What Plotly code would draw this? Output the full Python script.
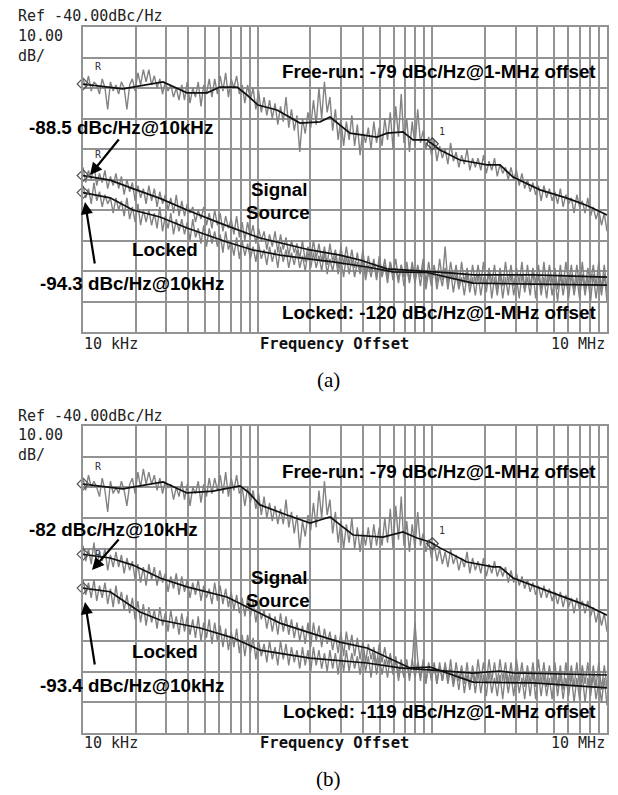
import numpy as np
import plotly.graph_objects as go

# ------------------------------------------------------------------ data
# frequency offsets in kHz, phase noise in dBc/Hz
# ---- panel (a): averaged traces
fr_a_f = [10, 16.9, 28.7, 39.4, 51.3, 60.8, 76.2, 86.9, 100.5, 129, 174.7, 227.6, 259.6, 337.8,
          482.2, 550, 679, 775, 932, 1107, 1440, 2056, 2439, 2896, 4134, 5900, 7680, 10000]
fr_a = [-58.7, -60.3, -58.0, -61.6, -61.6, -59.7, -59.7, -62.3, -65.6, -67.2, -71.5, -71.1, -69.5, -74.8,
        -76.1, -74.8, -74.4, -77.0, -77.0, -80.3, -83.6, -85.2, -85.2, -89.2, -93.4, -96.1, -98.5, -101.6]

ss_a_f = [10, 14.3, 19.3, 27.6, 39.4, 60.8, 103.1, 199.5, 296, 385.5, 550, 932, 1313, 1709, 3770, 10000]
ss_a = [-88.7, -90.2, -93, -96.2, -100, -104.3, -109.2, -113.1, -114.8, -116.4, -119.3, -120, -120.7,
        -121.3, -121.3, -122]

lk_a_f = [10, 14.3, 19.3, 27.6, 39.4, 66.7, 94, 134.3, 199.5, 270, 422.7, 595, 932, 1213, 1709, 3770, 10000]
lk_a = [-94.3, -96, -100, -102.3, -105.9, -110.5, -113.1, -114.8, -116.1, -117, -118.7, -120.3, -120.5,
        -122, -124, -124.3, -124.6]

# ---- panel (b): averaged traces
fr_b_f = [10, 16.9, 28.7, 39.4, 55.5, 79.2, 88.1, 103.1, 147.2, 199.5, 227.6, 259.6, 351.6, 522, 679,
          817, 970, 1107, 1579, 2225, 2439, 2896, 4134, 5900, 7680, 10000]
fr_b = [-58.9, -60.5, -58.2, -61.8, -61.2, -59.5, -61.5, -65.7, -69, -71.6, -70.6, -69.6, -75.5, -76.2,
        -74.5, -76.5, -77.8, -79.7, -84.3, -85.9, -85.9, -89.5, -92.8, -96, -98.5, -101.6]

ss_b_f = [10, 14.3, 19.3, 27.6, 39.4, 66.7, 94, 134.3, 199.5, 296, 422.7, 595, 745, 970, 1313, 1709,
          3770, 10000]
ss_b = [-81.8, -83, -85.3, -89.5, -92.4, -95.7, -99.9, -104.2, -107.4, -110.4, -112.3, -116.2, -118.8,
        -118.5, -121.1, -123.4, -123.7, -125.3]

lk_b_f = [10, 14.3, 21.2, 27.6, 46.8, 72.2, 103.1, 199.5, 422.7, 653, 1009, 1709, 2439, 2896, 10000]
lk_b = [-92.8, -94, -100.6, -103.2, -105.8, -109, -113, -115.6, -117.2, -118.8, -119.5, -120.5, -119.8,
        -120.4, -121.1]

# raw (unsmoothed) measured traces, read on a log frequency grid 10 kHz .. 10 MHz (192 samples)
raw_f = np.logspace(1, 4, 192)

raw_fr_a = [
    -57, -60, -56, -61, -58, -59, -62, -57, -60, -67, -58, -61,
    -59, -62, -58, -60, -67, -59, -57, -61, -55, -59, -54, -58,
    -54, -59, -56, -60, -57, -62, -58, -61, -59, -63, -60, -64,
    -59, -64, -58, -65, -60, -63, -58, -66, -59, -62, -57, -63,
    -57, -62, -56, -61, -55, -63, -57, -60, -56, -62, -59, -65,
    -59, -64, -60, -67, -61, -68, -63, -69, -64, -70, -65, -72,
    -66, -71, -63, -73, -67, -74, -69, -81, -70, -75, -68, -73,
    -64, -72, -60, -70, -58, -68, -63, -74, -67, -77, -70, -79,
    -71, -77, -69, -79, -72, -82, -74, -78, -73, -80, -71, -78,
    -73, -79, -70, -77, -68, -80, -66, -76, -62, -78, -70, -81,
    -71, -79, -67, -78, -74, -80, -76, -82, -77, -84, -79, -83,
    -80, -85, -78, -84, -81, -86, -82, -85, -80, -87, -83, -86,
    -83, -87, -82, -88, -84, -87, -83, -89, -85, -88, -86, -90,
    -86, -90, -87, -92, -88, -93, -90, -94, -91, -95, -92, -97,
    -92, -96, -93, -97, -94, -98, -93, -99, -95, -98, -96, -101,
    -95, -99, -97, -101, -96, -102, -99, -103, -100, -105, -101, -107]

raw_ss_a = [
    -86, -91, -87, -90, -85, -92, -88, -91, -87, -93, -89, -92,
    -88, -93, -89, -95, -90, -94, -91, -97, -92, -96, -93, -98,
    -92, -97, -93, -99, -94, -98, -95, -100, -96, -101, -95, -102,
    -97, -102, -98, -101, -99, -104, -100, -103, -99, -105, -101, -106,
    -100, -105, -101, -107, -102, -106, -103, -108, -102, -109, -104, -110,
    -104, -109, -105, -111, -106, -110, -107, -113, -108, -112, -107, -114,
    -108, -113, -109, -115, -110, -114, -111, -116, -110, -117, -112, -116,
    -110, -116, -111, -117, -112, -118, -111, -117, -113, -119, -112, -118,
    -112, -118, -113, -119, -114, -120, -113, -121, -115, -120, -116, -122,
    -115, -121, -116, -122, -117, -121, -116, -123, -118, -122, -117, -123,
    -117, -123, -118, -122, -116, -124, -117, -123, -118, -124, -116, -123,
    -112, -124, -117, -123, -118, -125, -117, -124, -119, -125, -118, -124,
    -118, -124, -117, -125, -119, -124, -118, -126, -119, -125, -117, -124,
    -118, -125, -119, -124, -117, -126, -118, -125, -119, -124, -118, -126,
    -117, -125, -118, -124, -119, -126, -118, -125, -117, -124, -118, -126,
    -118, -125, -117, -126, -119, -124, -118, -125, -117, -126, -118, -127]

raw_lk_a = [
    -92, -96, -93, -98, -91, -97, -94, -99, -95, -98, -96, -101,
    -96, -100, -97, -102, -96, -103, -99, -104, -98, -105, -100, -104,
    -100, -105, -101, -106, -99, -107, -102, -106, -101, -108, -103, -107,
    -103, -108, -104, -110, -103, -109, -106, -111, -105, -112, -106, -111,
    -107, -112, -108, -114, -107, -113, -110, -115, -109, -116, -110, -115,
    -111, -116, -112, -117, -111, -116, -113, -118, -112, -117, -113, -119,
    -112, -117, -113, -119, -114, -118, -113, -119, -115, -120, -114, -119,
    -114, -119, -115, -120, -114, -121, -116, -120, -115, -121, -116, -122,
    -115, -121, -116, -122, -117, -121, -116, -123, -118, -122, -117, -123,
    -117, -122, -118, -124, -117, -123, -119, -124, -118, -125, -119, -124,
    -118, -124, -119, -125, -118, -126, -120, -125, -119, -126, -121, -125,
    -119, -126, -120, -127, -121, -126, -122, -128, -121, -127, -122, -128,
    -121, -128, -122, -127, -120, -129, -122, -128, -121, -129, -122, -128,
    -121, -128, -122, -129, -121, -127, -122, -128, -120, -129, -121, -128,
    -122, -129, -121, -128, -122, -130, -121, -128, -122, -129, -121, -128,
    -122, -129, -121, -128, -122, -130, -121, -129, -122, -128, -121, -130]

raw_fr_b = [
    -57, -61, -56, -60, -58, -60, -63, -57, -61, -68, -58, -62,
    -60, -62, -58, -61, -66, -59, -57, -62, -55, -60, -54, -59,
    -55, -59, -56, -61, -57, -62, -58, -60, -59, -64, -60, -63,
    -58, -64, -59, -66, -60, -62, -58, -65, -59, -63, -57, -62,
    -57, -61, -56, -62, -55, -63, -57, -61, -56, -62, -60, -66,
    -60, -65, -61, -67, -62, -69, -63, -70, -65, -71, -66, -72,
    -67, -72, -64, -73, -68, -75, -69, -80, -71, -76, -69, -74,
    -65, -73, -61, -70, -58, -69, -64, -75, -68, -78, -71, -80,
    -72, -78, -70, -80, -73, -81, -74, -79, -73, -80, -72, -79,
    -73, -79, -70, -78, -67, -80, -66, -77, -63, -79, -71, -81,
    -72, -80, -68, -79, -75, -81, -77, -83, -78, -84, -80, -85,
    -81, -86, -80, -85, -82, -87, -83, -86, -81, -88, -83, -87,
    -84, -88, -83, -89, -85, -88, -84, -89, -86, -89, -86, -91,
    -87, -91, -88, -92, -89, -93, -90, -94, -91, -95, -92, -96,
    -92, -96, -93, -97, -94, -98, -94, -99, -95, -99, -96, -101,
    -96, -100, -97, -101, -97, -102, -99, -104, -100, -105, -101, -107]

raw_ss_b = [
    -79, -84, -80, -85, -78, -86, -81, -84, -80, -87, -82, -86,
    -81, -86, -82, -88, -83, -87, -84, -90, -85, -91, -86, -92,
    -85, -90, -86, -92, -87, -91, -88, -94, -89, -93, -88, -95,
    -89, -94, -90, -96, -91, -95, -90, -97, -92, -96, -93, -98,
    -91, -97, -92, -98, -93, -99, -94, -100, -95, -101, -96, -102,
    -96, -102, -97, -104, -98, -103, -100, -106, -101, -107, -102, -108,
    -101, -107, -102, -108, -103, -109, -104, -110, -105, -111, -104, -112,
    -104, -110, -105, -112, -106, -111, -107, -113, -108, -114, -107, -115,
    -107, -113, -108, -115, -109, -116, -110, -117, -111, -116, -112, -118,
    -111, -117, -112, -118, -114, -120, -115, -121, -116, -122, -117, -121,
    -117, -104, -116, -122, -117, -123, -118, -122, -117, -124, -118, -123,
    -118, -124, -119, -125, -120, -126, -119, -127, -121, -126, -120, -127,
    -120, -127, -121, -128, -120, -127, -122, -128, -121, -129, -120, -127,
    -121, -128, -120, -127, -122, -129, -121, -128, -120, -129, -121, -128,
    -121, -128, -122, -129, -120, -128, -121, -129, -122, -128, -121, -130,
    -122, -129, -121, -130, -122, -128, -121, -129, -123, -130, -122, -131]

raw_lk_b = [
    -90, -95, -91, -96, -90, -97, -92, -96, -91, -98, -93, -99,
    -92, -98, -94, -100, -95, -101, -96, -103, -97, -104, -98, -105,
    -99, -104, -100, -106, -99, -105, -101, -107, -100, -106, -102, -108,
    -101, -107, -102, -108, -103, -109, -102, -110, -104, -109, -103, -111,
    -104, -110, -105, -112, -106, -113, -107, -112, -106, -114, -108, -115,
    -108, -114, -109, -116, -110, -115, -111, -117, -110, -116, -112, -118,
    -110, -116, -111, -118, -112, -117, -113, -119, -112, -118, -113, -120,
    -112, -118, -113, -119, -114, -120, -113, -119, -114, -121, -113, -120,
    -113, -120, -114, -119, -115, -121, -114, -120, -115, -122, -114, -121,
    -115, -121, -116, -122, -115, -121, -116, -123, -117, -122, -116, -123,
    -116, -122, -117, -123, -116, -124, -117, -123, -118, -124, -117, -123,
    -117, -123, -116, -124, -117, -123, -118, -124, -117, -125, -118, -124,
    -116, -123, -117, -124, -116, -123, -117, -124, -116, -123, -117, -124,
    -117, -124, -116, -123, -117, -125, -118, -124, -117, -125, -116, -124,
    -117, -125, -118, -124, -117, -125, -118, -126, -117, -124, -118, -125,
    -117, -125, -118, -124, -117, -126, -118, -125, -117, -126, -118, -125]

# marker "1" at 1 MHz on the free-run traces
mk1_f = [1000]
mk1_a = [-78.3]
mk1_b = [-78.3]

grid_f = [k * 10 ** e for e in (1, 2, 3) for k in range(1, 10)] + [10000]

# ------------------------------------------------------------------ layout geometry (px)
W, H = 618, 795
X0, X1 = 83, 607
A_T, A_B = 27, 332
B_T, B_B = 426, 733

GRAY = "#828282"
GRID = "#939393"
BLACK = "#111111"

fig = go.Figure()

panels = [
    ("x", "y", [raw_fr_a, raw_ss_a, raw_lk_a], [(fr_a_f, fr_a), (ss_a_f, ss_a), (lk_a_f, lk_a)], mk1_a),
    ("x2", "y2", [raw_fr_b, raw_ss_b, raw_lk_b], [(fr_b_f, fr_b), (ss_b_f, ss_b), (lk_b_f, lk_b)], mk1_b),
]
for xa, ya, raws, blacks, mk in panels:
    for r in raws:
        fig.add_trace(go.Scatter(x=raw_f, y=r, xaxis=xa, yaxis=ya, mode="lines",
                                 line=dict(color=GRAY, width=1.4), hoverinfo="skip", showlegend=False))
    for f, v in blacks:
        fig.add_trace(go.Scatter(x=f, y=v, xaxis=xa, yaxis=ya, mode="lines",
                                 line=dict(color=BLACK, width=1.7), showlegend=False))
        fig.add_trace(go.Scatter(x=f[:1], y=v[:1], xaxis=xa, yaxis=ya, mode="markers",
                                 marker=dict(symbol="diamond-open", size=9, color="#555",
                                             line=dict(width=1.2)),
                                 showlegend=False, cliponaxis=False))
    fig.add_trace(go.Scatter(x=mk1_f, y=mk, xaxis=xa, yaxis=ya, mode="markers+text",
                             marker=dict(symbol="diamond-open", size=9, color="#444", line=dict(width=1.2)),
                             text=["1"], textposition="top right",
                             textfont=dict(size=10, color="#333", family="DejaVu Sans Mono"),
                             showlegend=False))


def px(x, y):
    return x / W, 1 - y / H


def ax_common(top, bot):
    return dict(
        xaxis=dict(type="log", range=[1, 4], domain=[X0 / W, X1 / W], tickmode="array", tickvals=grid_f,
                   showticklabels=False, ticks="", showgrid=True, gridcolor=GRID, gridwidth=1.5,
                   showline=True, mirror=True, linecolor=GRID, linewidth=1.5, zeroline=False,
                   fixedrange=True),
        yaxis=dict(range=[-140, -40], domain=[1 - bot / H, 1 - top / H], tickmode="array",
                   tickvals=list(range(-130, -40, 10)), showticklabels=False, ticks="", showgrid=True,
                   gridcolor=GRID, gridwidth=1.5, showline=True, mirror=True, linecolor=GRID,
                   linewidth=1.5, zeroline=False, fixedrange=True),
    )


a = ax_common(A_T, A_B)
b = ax_common(B_T, B_B)
xa2 = dict(b["xaxis"], anchor="y2")
ya2 = dict(b["yaxis"], anchor="x2")
a["xaxis"]["anchor"] = "y"
a["yaxis"]["anchor"] = "x"

ann = []
MONO = "DejaVu Sans Mono"
SANS = "Liberation Sans, Arial"
SERIF = "Liberation Serif, Times New Roman"


def text(t, x, y, xanchor="left", size=18.8, family=SANS, bold=True, color="black"):
    xp, yp = px(x, y)
    ann.append(dict(text=f"<b>{t}</b>" if bold else t, x=xp, y=yp, xref="paper", yref="paper",
                    xanchor=xanchor, yanchor="middle", showarrow=False,
                    font=dict(size=size, family=family, color=color)))


def arrow(hx, hy, tx, ty):
    xp, yp = px(hx, hy)
    ann.append(dict(text="", x=xp, y=yp, xref="paper", yref="paper", ax=tx - hx, ay=ty - hy,
                    showarrow=True, arrowhead=2, arrowsize=1.1, arrowwidth=2.2, arrowcolor="black",
                    standoff=0))


labels = [
    (0, "-88.5 dBc/Hz@10kHz", "-94.3 dBc/Hz@10kHz", "Locked: -120 dBc/Hz@1-MHz offset", "(a)"),
    (399, "-82 dBc/Hz@10kHz", "-93.4 dBc/Hz@10kHz", "Locked: -119 dBc/Hz@1-MHz offset", "(b)"),
]
for dy, l1, l2, l3, cap in labels:
    text("Ref -40.00dBc/Hz", 16, 16.5 + dy, size=15, family=MONO, bold=False, color="#222")
    text("10.00", 16, 36 + dy, size=15, family=MONO, bold=False, color="#222")
    text("dB/", 16, 56 + dy, size=15, family=MONO, bold=False, color="#222")
    text("Free-run: -79 dBc/Hz@1-MHz offset", 598, 72 + dy, xanchor="right")
    text(l1, 27, 128 + dy + (2 if dy else 0))
    text("Signal", 279, 190 + dy - (12 if dy else 0), xanchor="center")
    text("Source", 278, 213 + dy - (12 if dy else 0), xanchor="center")
    text("Locked", 165, 250 + dy + 2 * (dy > 0), xanchor="center")
    text(l2, 38, 284 + dy + 2 * (dy > 0))
    text(l3, 598, 312 + dy, xanchor="right")
    text("10 kHz", 82, 344 + dy, size=15, family=MONO, bold=False, color="#222")
    text("Frequency Offset", 334, 344 + dy, xanchor="center", size=15.5, family=MONO, color="#111")
    text("10 MHz", 607, 344 + dy, xanchor="right", size=15, family=MONO, bold=False, color="#222")
    text(cap, 329, 380 + dy, xanchor="center", size=21, family=SERIF, bold=False)
    text("R", 93, 67 + dy, size=10, family=MONO, bold=False, color="#333")
    text("R", 93, 155 + dy, size=10, family=MONO, bold=False, color="#333")

arrow(90, 175, 120, 138)
arrow(85, 202, 95, 265)
arrow(92, 570, 120, 538)
arrow(85, 602, 95, 666)

fig.update_layout(
    width=W, height=H, margin=dict(l=0, r=0, t=0, b=0), paper_bgcolor="white", plot_bgcolor="white",
    showlegend=False, xaxis=a["xaxis"], yaxis=a["yaxis"], xaxis2=xa2, yaxis2=ya2, annotations=ann,
)
fig.write_html("out.html")
